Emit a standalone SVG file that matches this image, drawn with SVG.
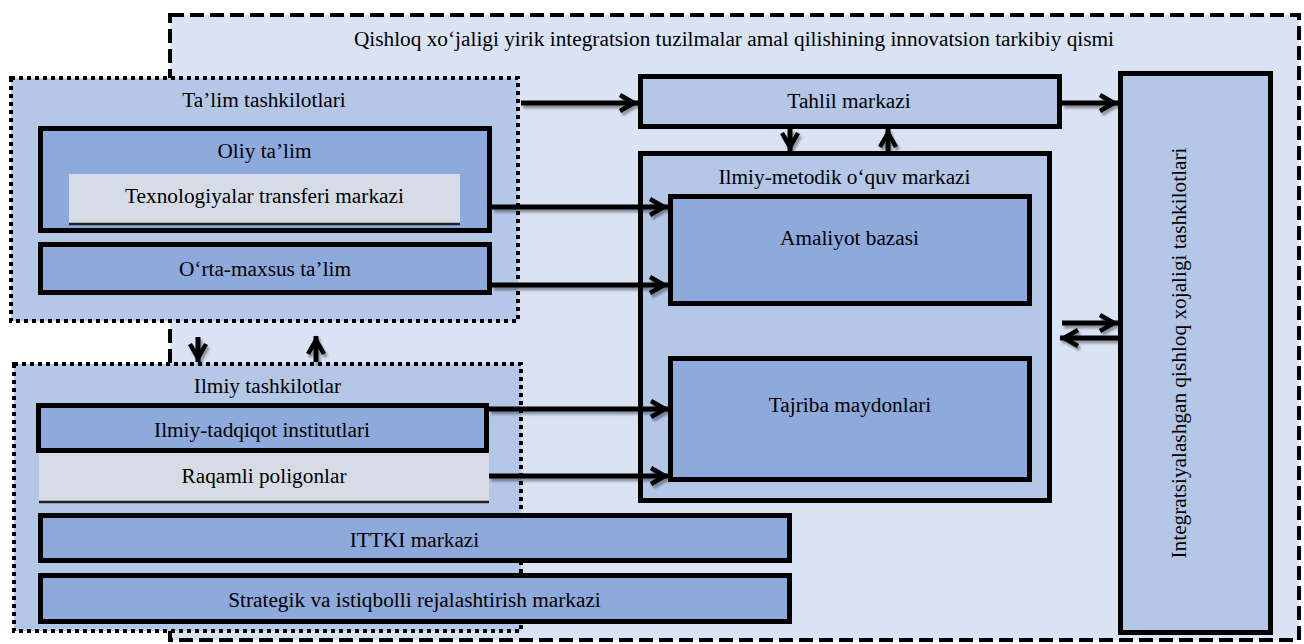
<svg xmlns="http://www.w3.org/2000/svg" width="1304" height="644" viewBox="0 0 1304 644">
<style>
  .t{font-family:"Liberation Serif","Times New Roman",serif;font-size:21.3px;fill:#000;text-anchor:middle}
  .mid{fill:#b4c7e7;stroke:#000;stroke-width:5}
  .dark{fill:#8eaadc;stroke:#000;stroke-width:5}
  .light{fill:#d6dce5}
  .dot{fill:#b4c7e7;stroke:#000;stroke-width:4;stroke-dasharray:4 4}
  .dash{fill:#dae3f3;stroke:#000;stroke-width:4;stroke-dasharray:14 6}
  .c{fill:none;stroke:#000;stroke-width:5;marker-end:url(#arr)}
  .sh{stroke:#222;stroke-width:2.5}
</style>
<defs>
  <marker id="arr" markerUnits="userSpaceOnUse" viewBox="0 0 24 20" markerWidth="24" markerHeight="20" refX="21" refY="10" orient="auto" overflow="visible">
    <path d="M3,2 L17,10 L3,18" fill="none" stroke="#000" stroke-width="4.5" stroke-linejoin="miter"/>
  </marker>
  <filter id="ds" x="-20%" y="-20%" width="140%" height="160%">
    <feDropShadow dx="2" dy="3" stdDeviation="1.2" flood-color="#000" flood-opacity="0.35"/>
  </filter>
</defs>
<rect width="1304" height="644" fill="#fff"/>

<g id="outer">
  <rect class="dash" x="170" y="15" width="1129" height="625"/>
  <text class="t" x="734" y="46">Qishloq xo‘jaligi yirik integratsion tuzilmalar amal qilishining innovatsion tarkibiy qismi</text>
</g>

<g id="talim">
  <rect class="dot" x="11" y="78" width="507" height="243"/>
  <text class="t" x="264" y="107">Ta’lim tashkilotlari</text>
</g>
<g id="oliy">
  <rect class="dark" x="40.5" y="128.5" width="449" height="102"/>
  <text class="t" x="264.5" y="158">Oliy ta’lim</text>
</g>
<g id="texnologiyalar">
  <rect class="light" x="69" y="174" width="391" height="50"/>
  <line class="sh" x1="69" y1="224" x2="460" y2="224"/>
  <text class="t" x="264.5" y="203">Texnologiyalar transferi markazi</text>
</g>
<g id="orta">
  <rect class="dark" x="40.5" y="244.5" width="449" height="48"/>
  <text class="t" x="265" y="276">O‘rta-maxsus ta’lim</text>
</g>

<g id="ilmiy">
  <rect class="dot" x="14" y="364" width="507" height="267"/>
  <text class="t" x="267.5" y="393">Ilmiy tashkilotlar</text>
</g>
<g id="institutlar">
  <rect class="dark" x="38.5" y="405.5" width="448" height="45"/>
  <text class="t" x="262" y="437">Ilmiy-tadqiqot institutlari</text>
</g>
<g id="raqamli">
  <rect class="light" x="39" y="453" width="450" height="49"/>
  <line class="sh" x1="39" y1="502" x2="489" y2="502"/>
  <text class="t" x="264" y="483">Raqamli poligonlar</text>
</g>
<g id="ittki">
  <rect class="dark" x="40.5" y="515.5" width="749" height="45"/>
  <text class="t" x="414.5" y="547">ITTKI markazi</text>
</g>
<g id="strategik">
  <rect class="dark" x="40.5" y="575.5" width="749" height="46"/>
  <text class="t" x="414.5" y="607">Strategik va istiqbolli rejalashtirish markazi</text>
</g>

<g id="tahlil">
  <rect class="mid" x="640.5" y="76.5" width="419" height="50"/>
  <text class="t" x="849" y="108">Tahlil markazi</text>
</g>
<g id="metodik">
  <rect class="mid" x="640.5" y="153.5" width="409" height="347"/>
  <text class="t" x="844.5" y="184">Ilmiy-metodik o‘quv markazi</text>
</g>
<g id="amaliyot">
  <rect class="dark" x="670.5" y="196.5" width="359" height="107"/>
  <text class="t" x="849.5" y="245">Amaliyot bazasi</text>
</g>
<g id="tajriba">
  <rect class="dark" x="670.5" y="358.5" width="359" height="121"/>
  <text class="t" x="850" y="412">Tajriba maydonlari</text>
</g>
<g id="integr">
  <rect class="mid" x="1120.5" y="73.5" width="150" height="559"/>
  <text class="t" transform="translate(1186,353) rotate(-90)" x="0" y="0">Integratsiyalashgan qishloq xojaligi tashkilotlari</text>
</g>

<g id="connectors" filter="url(#ds)">
  <path class="c" d="M521,103 L638,103"/>
  <path class="c" d="M1062,103 L1118,103"/>
  <path class="c" d="M790,129 L790,151"/>
  <path class="c" d="M888,151 L888,129"/>
  <path class="c" d="M492,207 L668,207"/>
  <path class="c" d="M492,285 L668,285"/>
  <path class="c" d="M489,409 L669,409"/>
  <path class="c" d="M489,476 L669,476"/>
  <path class="c" d="M1062,323 L1118,323"/>
  <path class="c" d="M1118,338 L1060,338"/>
  <path class="c" d="M198,337 L198,362"/>
  <path class="c" d="M316,362 L316,336"/>
</g>
</svg>
